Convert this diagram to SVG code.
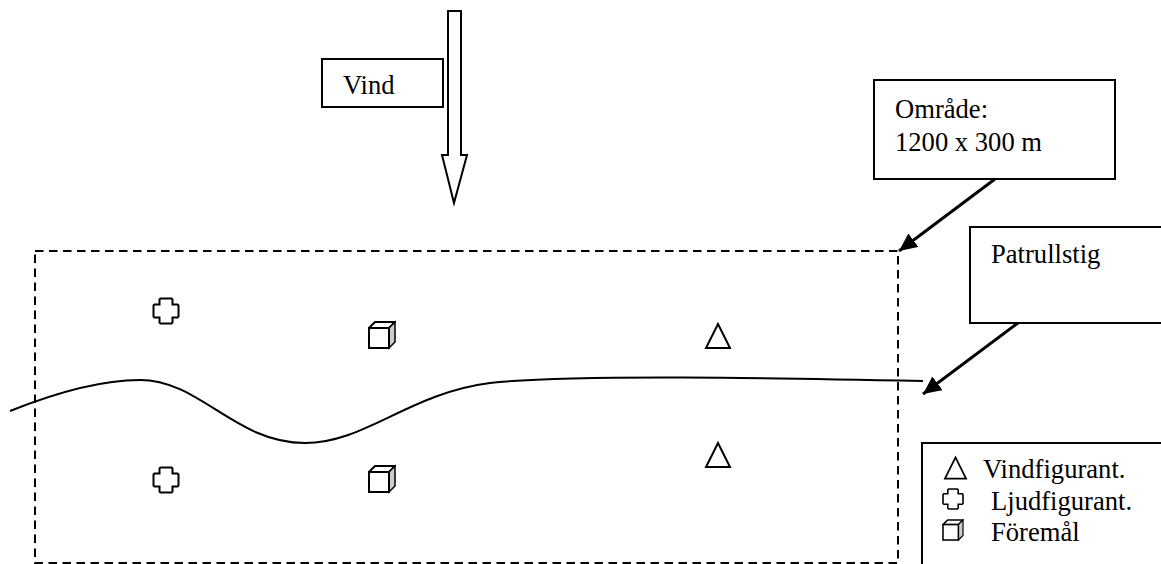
<svg xmlns="http://www.w3.org/2000/svg" width="1161" height="564" viewBox="0 0 1161 564">
<style>
.s{fill:#fff;stroke:#000;stroke-width:2}
.n{fill:none;stroke:#000;stroke-width:2}
.t{font-family:"Liberation Serif","Times New Roman",serif;font-size:26.6px;fill:#000}
.d{fill:none;stroke:#000;stroke-width:2;stroke-dasharray:8.500 5.500}
.c{fill:none;stroke:#000;stroke-width:2;stroke-linejoin:miter}
.f{fill:#ccc;stroke:#000;stroke-width:1.5}
.l{stroke:#000;stroke-width:3;fill:none}
</style>
<defs>
<marker id="ah" markerUnits="userSpaceOnUse" markerWidth="20" markerHeight="18" refX="18" refY="8.500" orient="auto"><path d="M0 0L18 8.500L0 17Z" fill="#000"/></marker>
<path id="plus" class="c" d="M-5.500-12.500H5.500L6.500-11.500V-6.500H11.500L12.500-5.500V5.500L11.500 6.500H6.500V11.500L5.500 12.500H-5.500L-6.500 11.500V6.500H-11.500L-12.500 5.500V-5.500L-11.500-6.500H-6.500V-11.500Z"/>
<g id="cube"><path d="M-13-7L-7-13H13L7-7Z" fill="#fff" stroke="#000" stroke-width="2" stroke-linejoin="round"/><path d="M7-7L13-13V7L7 13Z" class="f"/><rect x="-13" y="-7" width="20" height="20" fill="#fff" stroke="#000" stroke-width="2"/></g>
<path id="tri" class="c" d="M0-12L12 12H-12Z"/>
</defs>

<g id="area"><rect class="d" x="35" y="251" width="863" height="312"/></g>

<g id="connectors">
<path class="n" d="M10 411C55 393 100 380 140 380C200 380 235 443 305 443C365 443 410 393 490 383C570 374 780 378 923 381"/>
<line class="l" x1="995" y1="179" x2="899" y2="251" marker-end="url(#ah)"/>
<line class="l" x1="1018" y1="323" x2="923" y2="394" marker-end="url(#ah)"/>
</g>

<g id="wind-arrow"><path class="s" d="M448 11H461V155H467L454 203L442 155H448Z"/></g>

<g id="vind-box"><rect class="s" x="322" y="59" width="121" height="48"/><text class="t" x="343" y="94">Vind</text></g>

<g id="omrade-box"><rect class="s" x="874" y="80" width="241" height="99"/><text class="t" x="895" y="118">Område:</text><text class="t" x="895" y="151">1200 x 300 m</text></g>

<g id="patrullstig-box"><path class="s" d="M1161 227H970V323H1161"/><text class="t" x="991" y="263">Patrullstig</text></g>

<g id="legend"><path class="n" d="M1161 443H922V564"/>
<use href="#tri" transform="translate(955.500 468) scale(.88)"/><text class="t" x="983" y="478">Vindfigurant.</text>
<use href="#plus" transform="translate(953 499) scale(.8)"/><text class="t" x="991" y="510">Ljudfigurant.</text>
<use href="#cube" transform="translate(953 530) scale(.77)"/><text class="t" x="991" y="541">Föremål</text>
</g>

<g id="sound-1"><use href="#plus" x="166" y="311"/></g>
<g id="sound-2"><use href="#plus" x="166" y="480"/></g>
<g id="object-1"><use href="#cube" x="382" y="335"/></g>
<g id="object-2"><use href="#cube" x="382" y="479"/></g>
<g id="wind-1"><use href="#tri" x="718" y="336"/></g>
<g id="wind-2"><use href="#tri" x="718" y="455"/></g>
</svg>
